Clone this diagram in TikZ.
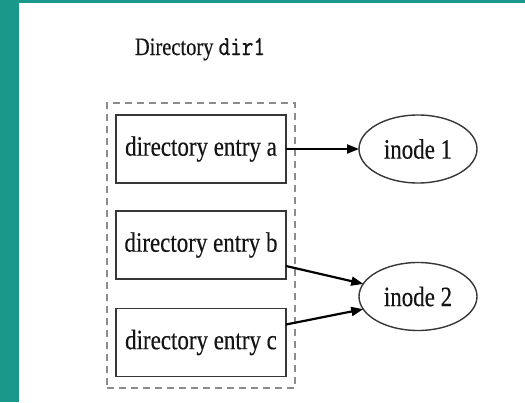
\documentclass[tikz,border=0pt]{standalone}
\usepackage{fontspec}
\setmainfont{Liberation Serif}[FakeStretch=0.82,FakeBold=0.35]
\newfontfamily\codefont{Latin Modern Mono}[Scale=1.1,FakeStretch=0.82,FakeBold=0.6]
\usetikzlibrary{shapes.geometric,arrows.meta}
\definecolor{bandteal}{RGB}{26,152,138}
\definecolor{ink}{RGB}{20,20,20}
\definecolor{boxline}{RGB}{55,55,55}
\definecolor{frameline}{RGB}{140,140,140}
\tikzset{
  entry/.style={draw=boxline, line width=1.6pt, rectangle, minimum width=170pt,
    minimum height=68pt, inner sep=0pt, outer sep=0pt, text=ink,
    font=\fontsize{28}{30}\selectfont},
  inode/.style={draw=boxline, line width=1.4pt, ellipse, minimum width=118pt,
    minimum height=68pt, inner sep=0pt, outer sep=0pt, text=ink,
    font=\fontsize{28}{30}\selectfont},
  dirframe/.style={draw=frameline, line width=1.2pt, dash pattern=on 7pt off 5pt,
    rectangle, minimum width=188pt, minimum height=285pt, inner sep=0pt},
  link/.style={draw=black, line width=2.2pt,
    -{Triangle[length=12pt,width=9pt]}},
}
\begin{document}
\begin{tikzpicture}[x=1pt, y=-1pt]
  % canvas and teal edges
  \useasboundingbox (0,0) rectangle (525,402);
  \fill[white] (0,0) rectangle (525,402);
  \fill[bandteal] (0,0) rectangle (19,402);
  \fill[bandteal] (0,0) rectangle (525,3);

  % directory frame and title
  \node[dirframe] (frame) at (201,245.5) {};
  \node[anchor=base, text=ink, font=\fontsize{25}{27}\selectfont] (title) at (200,55)
    {Directory {\codefont dir1}};

  % directory entries
  \node[entry] (a) at (201,149) {directory entry a};
  \node[entry] (b) at (201,245) {directory entry b};
  \node[entry] (c) at (201,342.5) {directory entry c};

  % inodes
  \node[inode] (i1) at (418,149) {inode 1};
  \node[inode] (i2) at (418,296.5) {inode 2};

  % links from entries to inodes
  \draw[link] (a.east) -- (i1.west);
  \draw[link] ([yshift=-21pt]b.east) -- (i2.167);
  \draw[link] ([yshift=18pt]c.east) -- (i2.193);
\end{tikzpicture}
\end{document}
